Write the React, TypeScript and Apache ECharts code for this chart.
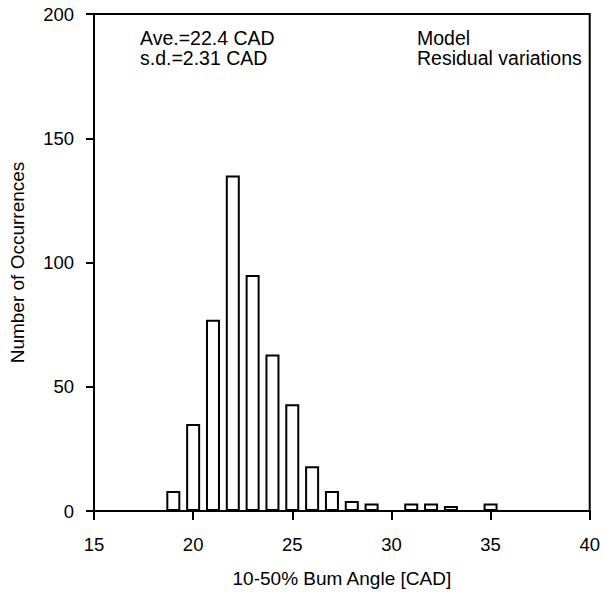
import React, { useEffect, useRef } from "react";
import * as echarts from "echarts";

const binCenters: number[] = [19, 20, 21, 22, 23, 24, 25, 26, 27, 28, 29, 30, 31, 32, 33, 34, 35];
const occurrences: number[] = [8, 35, 77, 135, 95, 63, 43, 18, 8, 4, 3, 0, 3, 3, 2, 0, 3];
const xTicks = { min: 15, max: 40, interval: 5 };
const yTicks = { min: 0, max: 200, interval: 50 };
const xName = "10-50% Bum Angle [CAD]";
const yName = "Number of Occurrences";
const statLines: string[] = ["Ave.=22.4 CAD", "s.d.=2.31 CAD"];
const modelLines: string[] = ["Model", "Residual variations"];

const FONT = "'Liberation Sans', Arial, Helvetica, sans-serif";

export default function App() {
  const ref = useRef<HTMLDivElement>(null);
  useEffect(() => {
    if (!ref.current) return;
    const chart = echarts.init(ref.current, null, { renderer: "svg" });
    const textStyle = { fontFamily: FONT, fontSize: 19, color: "#000" };
    const tickText = { fontFamily: FONT, fontSize: 18.5, color: "#000" };
    chart.setOption({
      animation: false,
      backgroundColor: "#fff",
      textStyle,
      grid: {
        left: 93,
        right: 12,
        top: 14,
        bottom: 78,
        show: true,
        borderColor: "#000",
        borderWidth: 2,
        backgroundColor: "transparent",
      },
      xAxis: {
        type: "value",
        min: xTicks.min,
        max: xTicks.max,
        interval: xTicks.interval,
        name: xName,
        nameLocation: "middle",
        nameGap: 58,
        nameTextStyle: { ...textStyle },
        axisLine: { show: true, onZero: false, lineStyle: { color: "#000", width: 2 } },
        axisTick: { show: true, inside: false, length: 9, lineStyle: { color: "#000", width: 2 } },
        axisLabel: { ...tickText, margin: 24 },
        splitLine: { show: false },
      },
      yAxis: {
        type: "value",
        min: yTicks.min,
        max: yTicks.max,
        interval: yTicks.interval,
        name: yName,
        nameLocation: "middle",
        nameGap: 67,
        nameTextStyle: { ...textStyle },
        axisLine: { show: true, lineStyle: { color: "#000", width: 2 } },
        axisTick: { show: true, inside: false, length: 8, lineStyle: { color: "#000", width: 2 } },
        axisLabel: { ...tickText, margin: 20 },
        splitLine: { show: false },
      },
      series: [
        {
          type: "bar",
          data: binCenters.map((x, i) => [x, occurrences[i]]),
          barWidth: 14,
          itemStyle: { color: "#fff", borderColor: "#000", borderWidth: 2 },
          silent: true,
        },
      ],
      graphic: [
        ...statLines.map((t, i) => ({
          type: "text",
          left: 140,
          top: 28 + i * 20,
          style: { text: t, font: `19.5px ${FONT}`, fill: "#000" },
        })),
        ...modelLines.map((t, i) => ({
          type: "text",
          left: 417,
          top: 28 + i * 20,
          style: { text: t, font: `19.5px ${FONT}`, fill: "#000" },
        })),
      ],
    });
    return () => chart.dispose();
  }, []);
  return (
    <div
      ref={ref}
      style={{ position: "fixed", left: 0, top: 0, width: 603, height: 593 }}
    />
  );
}
